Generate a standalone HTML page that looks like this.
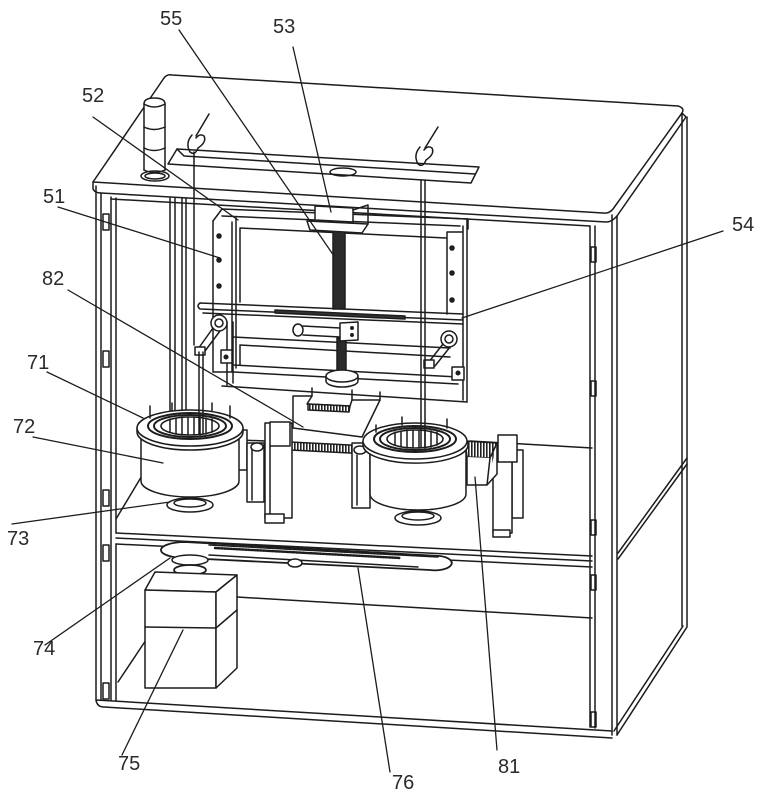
<!DOCTYPE html>
<html><head><meta charset="utf-8"><style>
html,body{margin:0;padding:0;background:#fff;}
svg{display:block}
text{font-family:"Liberation Sans",Arial,sans-serif;font-size:20px;fill:#2a2a2a}
</style></head><body>
<svg width="764" height="800" viewBox="0 0 764 800" xmlns="http://www.w3.org/2000/svg">
<defs>
<pattern id="h" width="3" height="3" patternUnits="userSpaceOnUse"><rect width="3" height="3" fill="#fff"/><rect width="1.6" height="3" fill="#222"/></pattern>
</defs>
<g fill="none" stroke="#1c1c1c" stroke-width="1.5" stroke-linejoin="round" stroke-linecap="round">
<!-- top slab -->
<path d="M93,182 L164,78 Q167,74 172,75 L678,106 Q685,108 682,113 L613,209 Q609,214 603,213 Z"/>
<path d="M686,117 L617,216"/>
<path d="M93,182 L93,189 Q95,193 101,193 L606,222 Q612,222 617,216"/>
<path d="M682,113 L686,117"/>
<!-- right side panel -->
<path d="M682,114 L682,626 M687,117 L687,627 M687,627 L617,735 M683,626 L614,731"/>
<path d="M687,458 L618,553 M687,464 L618,559"/>
<path d="M612,215 L612,735 M617,216 L617,735"/>
<!-- bottom -->
<path d="M96,700 L612,731 M96,700 Q97,707 104,707 L612,738"/>
<!-- left front post -->
<path d="M96,186 L96,700 M101,193 L101,700"/>
<path d="M111,197 L111,700 M116,198 L116,533 M116,544 L116,700"/>
<!-- right inner post -->
<path d="M590,226 L590,727 M595,226 L595,728"/>
<path d="M111,199 L590,226"/>
<!-- tabs -->
<rect x="103" y="214" width="6" height="16"/><rect x="103" y="351" width="6" height="16"/><rect x="103" y="490" width="6" height="16"/><rect x="103" y="545" width="6" height="16"/><rect x="103" y="683" width="6" height="16"/>
<rect x="591" y="247" width="5" height="15"/><rect x="591" y="381" width="5" height="15"/><rect x="591" y="520" width="5" height="15"/><rect x="591" y="575" width="5" height="15"/><rect x="591" y="712" width="5" height="15"/>
<!-- back left column -->
<path d="M170,198 L170,415 M175,198 L175,415 M182,198 L182,412 M186,198 L186,412"/>
<!-- shelf -->
<path d="M116,533 L592,556 M116,538 L592,561 M116,544 L592,567"/>
<path d="M470,441 L592,448"/>
<path d="M143,474 L116,519"/>
<!-- lower compartment -->
<path d="M237,597 L592,618"/>
<path d="M146,640 L118,682"/>
<!-- light tower -->
<path d="M144,170 L144,104 Q144,98 154,98 Q165,98 165,104 L165,170" fill="#fff"/>
<path d="M144,104 Q154,110 165,104 M144,127 Q154,132 165,127 M144,148 Q154,153 165,148 M144,170 Q154,175 165,170"/>
<ellipse cx="155" cy="176" rx="14" ry="5"/><ellipse cx="155" cy="176" rx="10" ry="3"/>
<!-- slot -->
<path d="M177,149 L479,167 L471,183 L168,164 Z"/>
<path d="M184,156 L475,174 M177,149 L184,156"/>
<ellipse cx="343" cy="172" rx="13" ry="4"/>
<!-- hooks -->
<path d="M196,136 L209,114"/>
<path d="M192,135 Q185,143 190,152 Q195,156 198,148 Q207,142 204,136 Q200,133 196,138"/>
<path d="M194,152 L194,166"/>
<path d="M425,148 L438,127"/>
<path d="M420,147 Q413,155 418,164 Q423,168 426,160 Q435,154 432,148 Q428,145 424,150"/>
<!-- frame 52 -->
<path d="M213,221 L222,209 L468,219 L468,229"/>
<path d="M222,216 L460,226"/>
<path d="M213,221 L213,372 L232,372 L232,222 M236,218 L236,368"/>
<path d="M240,228 L446,238 M240,228 L240,302"/>
<path d="M447,232 L447,314 M447,232 L463,232 M463,226 L463,400 M467,220 L467,402"/>
<circle cx="219" cy="236" r="2" fill="#222"/><circle cx="219" cy="260" r="2" fill="#222"/><circle cx="219" cy="286" r="2" fill="#222"/>
<circle cx="452" cy="248" r="2" fill="#222"/><circle cx="452" cy="273" r="2" fill="#222"/><circle cx="452" cy="300" r="2" fill="#222"/>
<!-- crossbar 54 -->
<path d="M200,303 L463,314 M200,309 L463,320 M203,313 L463,324 M200,303 Q196,306 200,309"/>
<path d="M275,310 L405,316 L405,319 L275,313 Z" fill="#333"/>
<!-- lift plate -->
<path d="M227,322 L227,385 M233,322 L233,383"/>
<path d="M233,337 L450,348 M240,345 L450,357 M240,345 L240,365"/>
<path d="M233,365 L458,377 M233,372 L458,384 M222,386 L467,402"/>
<!-- screw 55 -->
<path d="M333,231 L345,231 L345,309 L333,309 Z" fill="#2a2a2a"/>
<path d="M337,338 L346,338 L346,373 L337,373 Z" fill="#2a2a2a"/>
<path d="M326,376 L326,381 A16,6 0 0 0 358,381 L358,376" fill="#fff"/>
<ellipse cx="342" cy="376" rx="16" ry="6" fill="#fff"/>
<!-- block 53 -->
<path d="M307,221 L368,224 L362,233 L310,230 Z" fill="#fff"/>
<path d="M315,206 L353,208 L353,222 L315,220 Z" fill="#fff"/>
<path d="M353,210 L368,205 L368,224"/>
<!-- middle linkage -->
<ellipse cx="298" cy="330" rx="5" ry="6" fill="#fff"/>
<path d="M303,326 L340,328 M303,335 L340,337"/>
<path d="M340,323 L358,322 L358,340 L340,341 Z" fill="#fff"/>
<circle cx="352" cy="328" r="1.2" fill="#222"/><circle cx="352" cy="335" r="1.2" fill="#222"/>
<!-- pulleys -->
<circle cx="219" cy="323" r="8" fill="#fff"/><circle cx="219" cy="323" r="4"/>
<path d="M213,328 L198,349 M220,331 L205,351"/>
<rect x="195" y="347" width="10" height="8" fill="#fff"/>
<rect x="221" y="350" width="11" height="13" fill="#fff"/><circle cx="226" cy="357" r="1.8" fill="#222"/>
<circle cx="449" cy="339" r="8" fill="#fff"/><circle cx="449" cy="339" r="4"/>
<path d="M443,344 L428,363 M450,347 L435,366"/>
<rect x="424" y="360" width="10" height="8" fill="#fff"/>
<rect x="452" y="367" width="12" height="13" fill="#fff"/><circle cx="458" cy="373" r="1.8" fill="#222"/>
<!-- wires -->
<path d="M194,166 L194,345"/>
<path d="M421,180 L421,360 M425,180 L425,360"/>
<!-- block 82 -->
<path d="M293,396 L312,396 L307,404 L350,406 L352,400 L380,400 L362,437 L293,428 Z" fill="#fff"/>
<path d="M308,404 L350,406 L349,412 L308,410 Z" fill="url(#h)"/>
<path d="M312,396 L312,388 M352,400 L352,390 M380,400 L380,392"/>
<!-- rail -->
<path d="M290,442 L370,446 L370,454 L290,450 Z" fill="url(#h)"/>
<path d="M240,440 L290,442 M240,448 L290,450"/>
<!-- left supports -->
<rect x="237" y="430" width="10" height="40" fill="#fff"/>
<rect x="247" y="443" width="17" height="59" fill="#fff"/><path d="M252,446 L252,500"/>
<rect x="265" y="423" width="27" height="95" fill="#fff"/><path d="M270,446 L270,515"/>
<rect x="265" y="514" width="19" height="9" fill="#fff"/>
<rect x="270" y="422" width="20" height="24" fill="#fff"/>
<ellipse cx="257" cy="447" rx="6" ry="4" fill="#fff"/>
<!-- right supports -->
<rect x="352" y="443" width="18" height="65" fill="#fff"/><path d="M357,455 L357,505"/>
<ellipse cx="360" cy="450" rx="6" ry="4" fill="#fff"/>
<rect x="512" y="450" width="11" height="68" fill="#fff"/>
<rect x="493" y="447" width="19" height="86" fill="#fff"/>
<rect x="493" y="530" width="17" height="7" fill="#fff"/>
<rect x="498" y="435" width="19" height="27" fill="#fff"/>
<!-- rail 81 -->
<path d="M465,441 L497,443 L490,458 L467,457 Z" fill="url(#h)"/>
<path d="M467,457 L467,485 L487,485 L490,458 M487,485 L497,474 L497,443" fill="#fff"/>
<!-- left cylinder -->
<path d="M141,436 L141,481 A49,16 0 0 0 239,481 L239,436 Z" fill="#fff"/>
<path d="M137,428 L137,432 A53,18 0 0 0 243,432 L243,428" fill="#fff"/>
<ellipse cx="190" cy="428" rx="53" ry="18" fill="#fff"/>
<ellipse cx="190" cy="426" rx="42" ry="13" stroke-width="2"/>
<ellipse cx="190" cy="426" rx="36" ry="11" stroke-width="2"/>
<ellipse cx="190" cy="426" rx="29" ry="9" stroke-width="1.6"/>
<path d="M170,419 L170,432 M176,418 L176,434 M182,417 L182,435 M188,417 L188,435 M194,417 L194,435 M200,417 L200,435 M206,418 L206,434 M212,419 L212,432"/>
<path d="M150,406 L150,418 M230,406 L230,418 M172,403 L172,411 M212,403 L212,411"/>
<ellipse cx="190" cy="505" rx="23" ry="7" fill="#fff"/>
<ellipse cx="190" cy="503" rx="16" ry="4"/>
<!-- right cylinder -->
<path d="M370,449 L370,494 A48,16 0 0 0 466,494 L466,449 Z" fill="#fff"/>
<path d="M363,441 L363,445 A52,18 0 0 0 468,445 L468,441" fill="#fff"/>
<ellipse cx="415" cy="441" rx="52" ry="18" fill="#fff"/>
<ellipse cx="415" cy="439" rx="41" ry="13" stroke-width="2"/>
<ellipse cx="415" cy="439" rx="35" ry="11" stroke-width="2"/>
<ellipse cx="415" cy="439" rx="28" ry="9" stroke-width="1.6"/>
<path d="M395,432 L395,445 M401,431 L401,447 M407,430 L407,448 M413,430 L413,448 M419,430 L419,448 M425,430 L425,448 M431,431 L431,447 M437,432 L437,445"/>
<path d="M402,417 L402,425 M447,419 L447,428 M376,425 L376,432"/>
<ellipse cx="418" cy="518" rx="23" ry="7" fill="#fff"/>
<ellipse cx="418" cy="516" rx="16" ry="4"/>
<!-- wires into cylinders -->
<path d="M199,352 L199,434 M203,352 L203,434"/>
<path d="M421,360 L421,447 M425,360 L425,447"/>
<!-- belt -->
<path d="M185,542 L440,556 A16,7 0 0 1 430,570 L185,558 A24,8 0 0 1 185,542 Z" fill="#fff" stroke-width="1.8"/>
<path d="M209,545 L438,557 M209,555 L418,567"/>
<path d="M215,548 L400,558" stroke-dasharray="1.5 1.5" stroke-width="2.5"/>
<ellipse cx="295" cy="563" rx="7" ry="4" fill="#fff"/>
<ellipse cx="190" cy="560" rx="18" ry="5" fill="#fff"/>
<ellipse cx="190" cy="570" rx="16" ry="5" fill="#fff" stroke-width="1.8"/>
<ellipse cx="190" cy="580" rx="18" ry="6" fill="#fff"/>
<!-- motor -->
<path d="M145,590 L155,572 L237,575 L216,592 Z" fill="#fff"/>
<path d="M145,590 L216,592 L216,688 L145,688 Z" fill="#fff"/>
<path d="M216,592 L237,575 L237,668 L216,688 Z" fill="#fff"/>
<path d="M145,627 L216,628 L237,610"/>
<!-- leaders -->
<g stroke-width="1.3">
<path d="M179,30 L334,256"/>
<path d="M293,47 L331,212"/>
<path d="M93,117 L238,220"/>
<path d="M58,207 L220,258"/>
<path d="M723,231 L462,318"/>
<path d="M68,290 L303,427"/>
<path d="M47,372 L143,418"/>
<path d="M33,437 L163,463"/>
<path d="M12,524 L170,502"/>
<path d="M45,645 L170,558"/>
<path d="M122,755 L183,630"/>
<path d="M390,772 L358,568"/>
<path d="M497,750 L475,477"/>
</g>
</g>
<text x="160" y="25">55</text>
<text x="273" y="33">53</text>
<text x="82" y="102">52</text>
<text x="43" y="203">51</text>
<text x="732" y="231">54</text>
<text x="42" y="285">82</text>
<text x="27" y="369">71</text>
<text x="13" y="433">72</text>
<text x="7" y="545">73</text>
<text x="33" y="655">74</text>
<text x="118" y="770">75</text>
<text x="392" y="789">76</text>
<text x="498" y="773">81</text>
</svg>
</body></html>
